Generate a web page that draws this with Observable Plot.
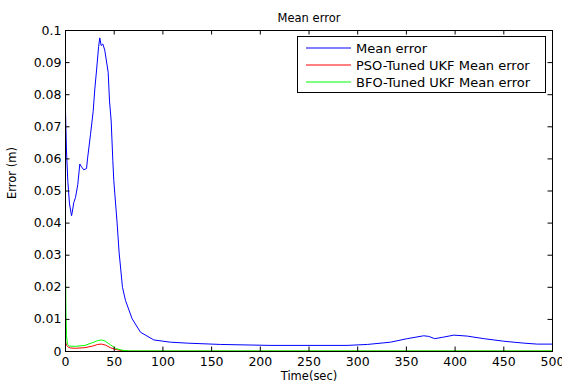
<!DOCTYPE html>
<html><head><meta charset="utf-8">
<script src="https://cdn.jsdelivr.net/npm/d3@7"></script>
<script src="https://cdn.jsdelivr.net/npm/@observablehq/plot@0.6"></script>
<style>body{margin:0;background:#fff}</style>
</head><body><div id="chart"></div>
<script>
const titleText = "Mean error";
const xLabel = "Time(sec)";
const yLabel = "Error (m)";
const seriesNames = ["Mean error", "PSO-Tuned UKF Mean error", "BFO-Tuned UKF Mean error"];
const seriesColors = ["#0000ff", "#ff0000", "#00ff00"];

const blueT = [0,1,2.4,4.1,6.2,6.9,8.5,10.3,12.6,14.7,16.5,18.8,21.6,22.6,25.7,28.4,30.1,32,34,35.2,36.6,38.3,40.3,43.8,45.2,46.9,48.6,49.6,53,55,58.5,61.6,68.4,77,90.7,107.8,125,159,210,289,310,333.6,350.8,367.8,373,379,386.7,398.7,412.4,429.5,450,470.7,484.4,500];
const blueY = [0.075,0.0625,0.053,0.046,0.0423,0.0433,0.0464,0.048,0.052,0.0584,0.0575,0.0566,0.057,0.0600,0.0677,0.0748,0.0818,0.088,0.095,0.0977,0.0953,0.0958,0.0939,0.087,0.078,0.0718,0.0594,0.0532,0.04,0.031,0.02,0.0159,0.0102,0.006,0.0036,0.0029,0.0026,0.0022,0.0019,0.0019,0.0022,0.0029,0.004,0.0049,0.0047,0.004,0.0044,0.0051,0.0048,0.004,0.0032,0.0026,0.0023,0.0023];

const redT = [0,1,3,5,10,20,28,33,37,41,46,52,58,65,80,100,500];
const redY = [0.003,0.002,0.0013,0.0011,0.001,0.0012,0.0017,0.0022,0.0023,0.002,0.0012,0.0006,0.0003,0.0001,0.0001,0.0001,0.0001];

const greenT = [0,0.5,1,2,4,10,20,28,33,37,41,46,52,58,65,80,500];
const greenY = [0.025,0.012,0.005,0.0022,0.0017,0.0016,0.0019,0.0028,0.0034,0.0036,0.0032,0.0021,0.0009,0.0004,0.0002,0.0002,0.0002];

const xTicks = [0,50,100,150,200,250,300,350,400,450,500];
const yTicks = [0,0.01,0.02,0.03,0.04,0.05,0.06,0.07,0.08,0.09,0.1];
const yTickLabels = ["0","0.01","0.02","0.03","0.04","0.05","0.06","0.07","0.08","0.09","0.1"];

const rows = (t, v) => t.map((d, i) => ({t: d, v: v[i]}));
const font = "'DejaVu Sans', sans-serif";
const W = 562, H = 385, mL = 65, mR = 10, mT = 30, mB = 34;
const fw = W - mL - mR, fh = H - mT - mB;
const tk = 4.5;

const plot = Plot.plot({
  width: W, height: H,
  marginLeft: mL, marginRight: mR, marginTop: mT, marginBottom: mB,
  style: {fontFamily: font, fontSize: "12.5px", background: "white", color: "#000"},
  x: {domain: [0, 500], label: null},
  y: {domain: [0, 0.1], label: null},
  marks: [
    Plot.line(rows(blueT, blueY), {x: "t", y: "v", stroke: seriesColors[0], strokeWidth: 1}),
    Plot.line(rows(redT, redY), {x: "t", y: "v", stroke: seriesColors[1], strokeWidth: 1}),
    Plot.line(rows(greenT, greenY), {x: "t", y: "v", stroke: seriesColors[2], strokeWidth: 1}),
    Plot.frame({stroke: "#000", strokeWidth: 1}),
    Plot.tickX(xTicks, {x: d => d, stroke: "#000", insetTop: fh - tk}),
    Plot.tickX(xTicks, {x: d => d, stroke: "#000", insetBottom: fh - tk}),
    Plot.tickY(yTicks, {y: d => d, stroke: "#000", insetRight: fw - tk}),
    Plot.tickY(yTicks, {y: d => d, stroke: "#000", insetLeft: fw - tk}),
    Plot.axisX(xTicks, {anchor: "bottom", tickSize: 0, tickPadding: 6, label: null}),
    Plot.axisY(yTicks, {anchor: "left", tickSize: 0, tickPadding: 4, label: null, tickFormat: (d, i) => yTickLabels[i]}),
    Plot.text([titleText], {frameAnchor: "top", dy: -17, fontSize: 11.5}),
    Plot.text([xLabel], {frameAnchor: "bottom", dy: 28, fontSize: 11.5}),
    Plot.text([yLabel], {frameAnchor: "left", dx: -53, dy: 8, rotate: -90, fontSize: 11.5})
  ]
});
document.getElementById("chart").appendChild(plot);

// legend
const svg = d3.select(plot);
const lg = svg.append("g").attr("font-family", font).attr("font-size", 13).attr("text-anchor", "start");
lg.append("rect").attr("x", 297.5).attr("y", 36.5).attr("width", 248).attr("height", 56)
  .attr("fill", "white").attr("stroke", "#000").attr("stroke-width", 1);
const rowY = [48, 65, 82];
seriesNames.forEach((name, i) => {
  lg.append("line").attr("x1", 306).attr("x2", 351).attr("y1", rowY[i]).attr("y2", rowY[i])
    .attr("stroke", seriesColors[i]).attr("stroke-width", 1);
  lg.append("text").attr("x", 356).attr("y", rowY[i]).attr("dy", "0.35em").attr("fill", "#000")
    .attr("text-anchor", "start").text(name);
});
</script>
</body></html>
